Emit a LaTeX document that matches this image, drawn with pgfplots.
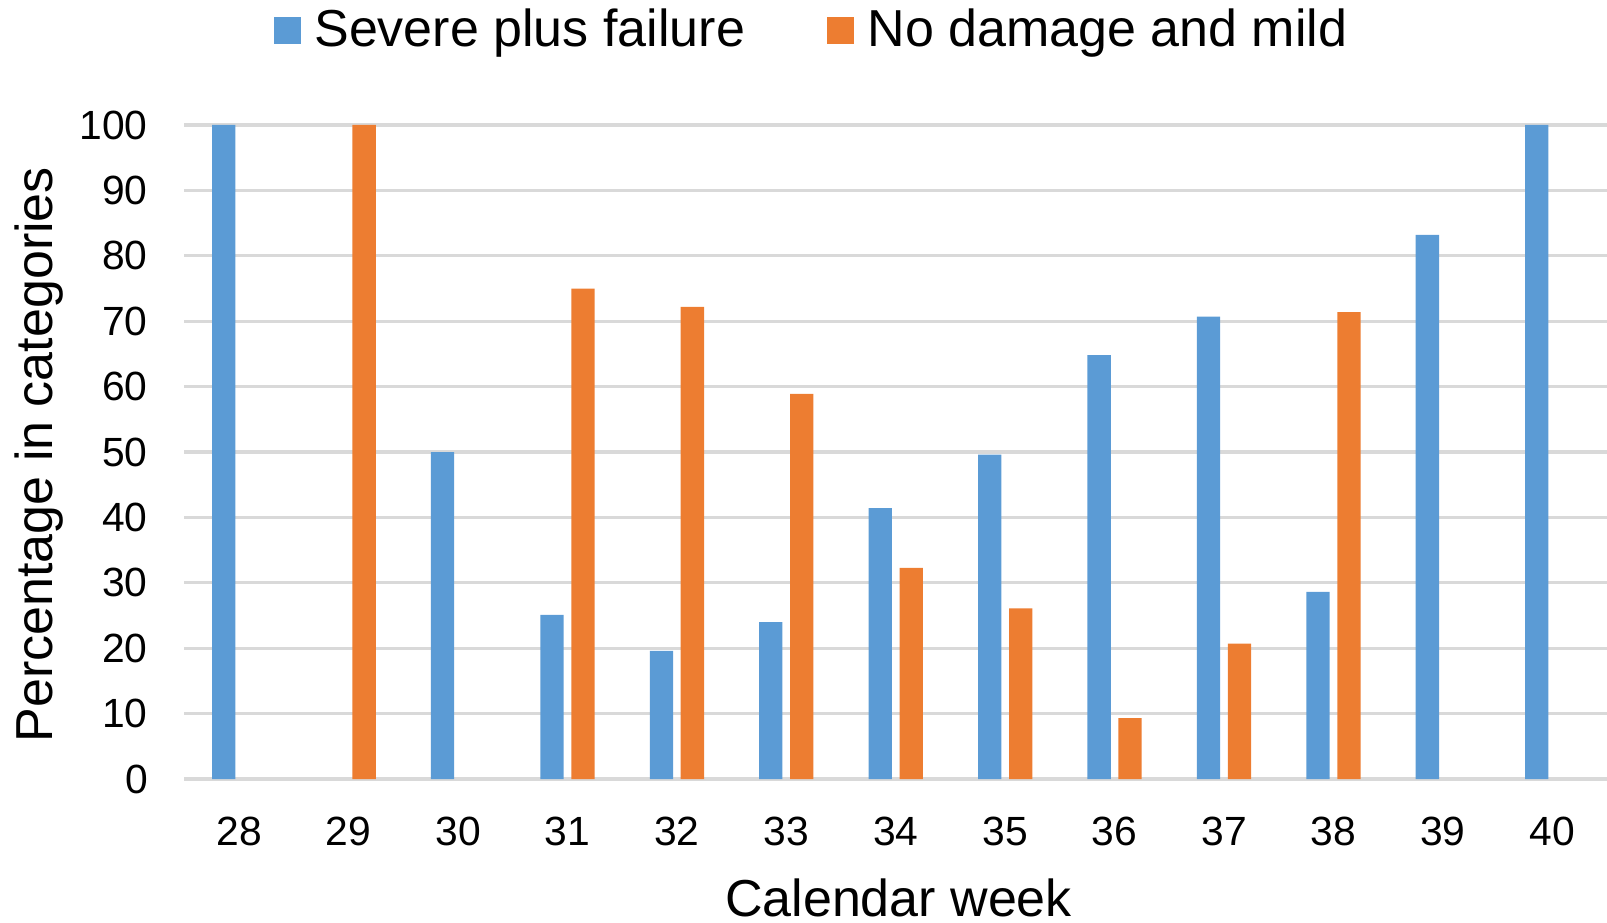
\documentclass[border=0pt]{standalone}
\usepackage{fontspec}
\setmainfont{Liberation Sans}
\usepackage{pgfplots}
\pgfplotsset{compat=1.18}
\definecolor{sevblue}{HTML}{5B9BD5}
\definecolor{mildorange}{HTML}{ED7D31}
\definecolor{gridgray}{HTML}{D9D9D9}

\begin{document}
\begin{tikzpicture}
\begin{axis}[
  scale only axis,
  width=355.625pt, height=163.5pt,
  xmin=27.5, xmax=40.5,
  ymin=0, ymax=100,
  xtick={28,...,40},
  ytick={0,10,...,100},
  ymajorgrids,
  major grid style={gridgray, line width=0.8pt},
  axis line style={draw=none},
  major tick length=0pt,
  /pgf/number format/assume math mode=true,
  tick label style={font=\fontsize{10.2}{12}\selectfont},
  yticklabel style={anchor=east, inner sep=0pt, xshift=-9pt},
  xticklabel style={anchor=north, inner sep=0pt, yshift=-9.2pt},
  xlabel={Calendar week},
  ylabel={Percentage in categories},
  label style={font=\fontsize{13}{15}\selectfont},
  xlabel style={at={(axis description cs:0.502,-0.211)}, anchor=base, inner sep=0pt},
  ylabel style={at={(axis description cs:-0.0925,0.496)}, anchor=base, inner sep=0pt},
  legend style={at={(axis description cs:0.443,1.144)}, anchor=center,
    draw=none, fill=none, font=\fontsize{13}{15}\selectfont,
    legend columns=-1,
    /tikz/every even column/.append style={column sep=18.5pt}},
  legend image code/.code={\fill[#1] (0pt,-3.375pt) rectangle (6.75pt,3.375pt);
    \path (8.1pt,0pt);},
]
\addplot[ybar, bar width=0.213, bar shift=-0.1415, fill=sevblue, draw=none]
  coordinates {(28,100) (30,50) (31,25.1) (32,19.6) (33,24.0) (34,41.4) (35,49.6)
               (36,64.8) (37,70.7) (38,28.6) (39,83.2) (40,100)};
\addlegendentry{Severe plus failure}
\addplot[ybar, bar width=0.213, bar shift=0.1415, fill=mildorange, draw=none]
  coordinates {(29,100) (31,75.0) (32,72.2) (33,58.9) (34,32.3) (35,26.1)
               (36,9.3) (37,20.7) (38,71.4)};
\addlegendentry{No damage and mild}
\end{axis}
\pgfresetboundingbox
\path[use as bounding box] (-46.125pt,-35.75pt) rectangle (355.625pt,194.75pt);
\end{tikzpicture}
\end{document}
